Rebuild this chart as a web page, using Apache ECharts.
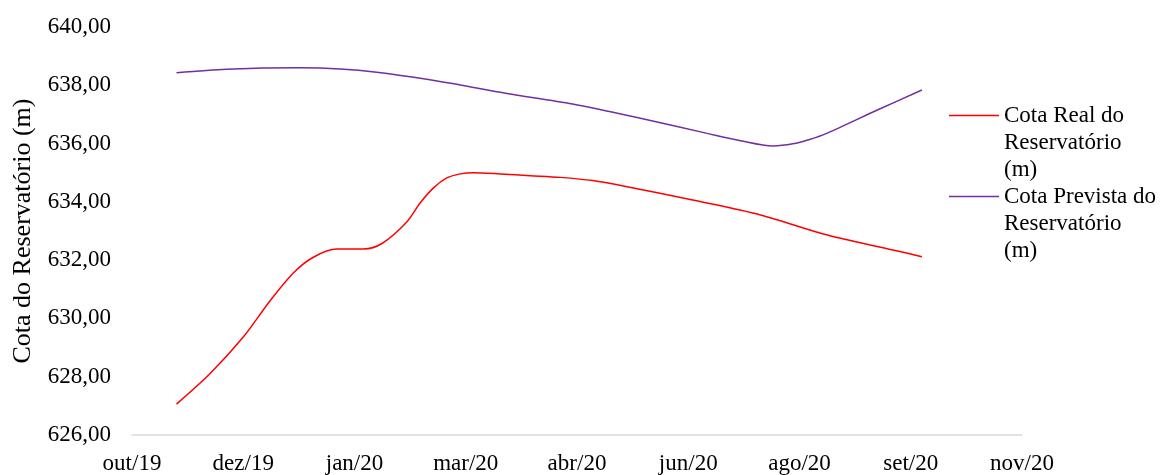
<!DOCTYPE html>
<html>
<head>
<meta charset="utf-8">
<title>Cota do Reservatório</title>
<script src="https://cdn.jsdelivr.net/npm/echarts@6/dist/echarts.min.js"></script>
<style>
  html, body { margin: 0; padding: 0; background: #fff; }
  #chart { width: 1165px; height: 475px; }
</style>
</head>
<body>
<div id="chart"></div>
<script>
// rótulos do eixo x (um por divisão)
var xLabels = ['out/19', 'dez/19', 'jan/20', 'mar/20', 'abr/20', 'jun/20', 'ago/20', 'set/20', 'nov/20'];

// posição no eixo (em divisões) e cota em metros
var realX = [0.40, 0.70, 1.00, 1.24, 1.45, 1.63, 1.84, 2.08, 2.25, 2.47, 2.59, 2.71, 2.83, 2.95, 3.07, 3.31, 3.58, 3.85, 4.14, 4.45, 5.04, 5.65, 6.25, 6.84, 7.10];
var realY = [627.06, 628.10, 629.36, 630.60, 631.56, 632.10, 632.38, 632.38, 632.58, 633.31, 633.96, 634.48, 634.82, 634.96, 635.00, 634.96, 634.90, 634.84, 634.73, 634.52, 634.06, 633.55, 632.86, 632.35, 632.12];

var prevX = [0.40, 0.85, 1.51, 1.87, 2.20, 2.65, 2.95, 3.37, 3.96, 4.57, 5.17, 5.47, 5.76, 5.94, 6.09, 6.25, 6.70, 7.10];
var prevY = [638.43, 638.55, 638.60, 638.56, 638.45, 638.21, 638.01, 637.72, 637.36, 636.87, 636.35, 636.10, 635.92, 635.99, 636.14, 636.36, 637.15, 637.84];

var serieNames = ['Cota Real do Reservatório (m)', 'Cota Prevista do Reservatório (m)'];

function pares(xs, ys) {
  return xs.map(function (x, i) { return [x, ys[i]]; });
}

var fonte = 'Liberation Serif, Times New Roman, serif';

var chart = echarts.init(document.getElementById('chart'));
chart.setOption({
  animation: false,
  grid: { left: 132, right: 143, top: 27, bottom: 40, containLabel: false },
  legend: {
    orient: 'vertical',
    left: 949,
    top: 48,
    padding: 0,
    icon: 'rect',
    itemWidth: 50,
    itemHeight: 1.5,
    itemGap: -54,
    data: serieNames,
    // duas linhas vazias antes: a linha do ícone fica na altura da 1ª linha do texto
    formatter: function (name) {
      return '\n\n' + name.replace(' Reservatório', '\nReservatório').replace(' (m)', '\n(m)');
    },
    textStyle: {
      fontFamily: fonte,
      fontSize: 23,
      lineHeight: 27,
      color: '#000'
    }
  },
  xAxis: {
    type: 'value',
    min: 0,
    max: 8,
    interval: 1,
    axisLine: { show: true, lineStyle: { color: '#d9d9d9', width: 1.5 } },
    axisTick: { show: false },
    splitLine: { show: false },
    axisLabel: {
      margin: 17,
      fontFamily: fonte,
      fontSize: 23,
      color: '#000',
      formatter: function (v) { return xLabels[Math.round(v)]; }
    }
  },
  yAxis: {
    type: 'value',
    min: 626,
    max: 640,
    interval: 2,
    name: 'Cota do Reservatório (m)',
    nameLocation: 'middle',
    nameGap: 96,
    nameTextStyle: { fontFamily: fonte, fontSize: 26, color: '#000' },
    axisLine: { show: false },
    axisTick: { show: false },
    splitLine: { show: false },
    axisLabel: {
      margin: 21,
      fontFamily: fonte,
      fontSize: 23,
      color: '#000',
      formatter: function (v) { return v.toFixed(2).replace('.', ','); }
    }
  },
  series: [
    {
      name: serieNames[0],
      type: 'line',
      smooth: 0.3,
      symbol: 'none',
      lineStyle: { color: '#ff0000', width: 1.5 },
      itemStyle: { color: '#ff0000' },
      data: pares(realX, realY)
    },
    {
      name: serieNames[1],
      type: 'line',
      smooth: 0.3,
      symbol: 'none',
      lineStyle: { color: '#7030a0', width: 1.5 },
      itemStyle: { color: '#7030a0' },
      data: pares(prevX, prevY)
    }
  ]
});
</script>
</body>
</html>
